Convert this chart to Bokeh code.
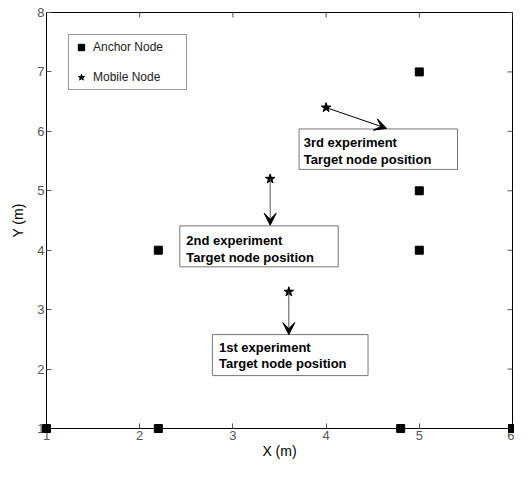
import math
from bokeh.plotting import figure
from bokeh.models import (Arrow, VeeHead, Range1d, FixedTicker,
                          Legend, LegendItem, ColumnDataSource)
from bokeh.core.properties import value
from bokeh.embed import file_html
from bokeh.resources import INLINE

# ---- data ----
anchor_x = [1, 2.2, 4.8, 6, 2.2, 5, 5, 5]
anchor_y = [1, 1, 1, 1, 4, 4, 5, 7]
mobile_x = [4.0, 3.4, 3.6]
mobile_y = [6.4, 5.2, 3.3]
arrow_end_x = [4.65, 3.4, 3.6]
arrow_end_y = [6.05, 4.42, 2.58]
arrow_colors = ["#000000", "#555555", "#555555"]

box_left = [3.71, 2.43, 2.78]
box_right = [5.41, 4.13, 4.45]
box_top = [6.04, 4.41, 2.58]
box_bottom = [5.36, 3.72, 1.89]

box_text_x = [3.76, 2.50, 2.85]
box_line1_y = [5.81, 4.16, 2.37]
box_line2_y = [5.53, 3.88, 2.09]
box_line1 = ["3rd experiment", "2nd experiment", "1st experiment"]
box_line2 = ["Target node position"] * 3

x_ticks = [1, 2, 3, 4, 5, 6]
y_ticks = [1, 2, 3, 4, 5, 6, 7, 8]
x_min, x_max = 1, 6
y_min, y_max = 1, 8

FONT = "Liberation Sans"

p = figure(width=514, height=461, x_range=Range1d(x_min, x_max),
           y_range=Range1d(y_min, y_max),
           output_backend="svg", toolbar_location=None,
           min_border_left=46, min_border_right=2, min_border_top=12,
           min_border_bottom=33)
p.xgrid.visible = False
p.ygrid.visible = False
p.outline_line_color = "black"
p.outline_line_width = 1
p.background_fill_color = "white"
p.border_fill_color = "white"

for ax, ticks in ((p.xaxis[0], x_ticks), (p.yaxis[0], y_ticks)):
    ax.ticker = FixedTicker(ticks=ticks)
    ax.minor_tick_line_color = None
    ax.major_tick_in = 5
    ax.major_tick_out = 0
    ax.major_tick_line_color = "#555555"
    ax.axis_line_color = "black"
    ax.major_label_text_font = FONT
    ax.major_label_text_font_size = "13px"
    ax.major_label_text_color = "#555555"
    ax.major_label_standoff = 2
    ax.axis_label_text_font = FONT
    ax.axis_label_text_font_size = "14px"
    ax.axis_label_text_font_style = "normal"
    ax.axis_label_text_color = "black"
    ax.axis_label_standoff = 0

p.xaxis[0].axis_label = "X (m)"
p.yaxis[0].axis_label = "Y (m)"
p.yaxis[0].axis_label_standoff = 8

# mirrored inward ticks on top and right edges (half clipped by the frame)
p.scatter(x=x_ticks, y=[y_max] * len(x_ticks), marker="dash", size=10,
          angle=math.pi / 2, line_color="#555555", line_width=1)
p.scatter(x=[x_max] * len(y_ticks), y=y_ticks, marker="dash", size=10,
          line_color="#555555", line_width=1)

# text boxes
p.quad(left=box_left, right=box_right, top=box_top, bottom=box_bottom,
       fill_color="white", line_color="#777777", line_width=1)
p.text(x=box_text_x, y=box_line1_y, text=box_line1, text_font=value(FONT),
       text_font_style="bold", text_font_size="13px", text_baseline="middle",
       text_color="black")
p.text(x=box_text_x, y=box_line2_y, text=box_line2, text_font=value(FONT),
       text_font_style="bold", text_font_size="13px", text_baseline="middle",
       text_color="black")

# arrows
arrow_src = ColumnDataSource(dict(x0=mobile_x, y0=mobile_y, x1=arrow_end_x,
                                  y1=arrow_end_y, c=arrow_colors))
p.add_layout(Arrow(end=VeeHead(size=12, fill_color="black", line_color="black",
                               fill_alpha=1),
                   x_start="x0", y_start="y0", x_end="x1", y_end="y1",
                   line_color="c", line_width=1, source=arrow_src))

# markers
r_anchor = p.scatter(anchor_x, anchor_y, marker="square", size=8,
                     fill_color="black", line_color="black", level="overlay")
r_mobile = p.scatter(mobile_x, mobile_y, marker="star", size=10,
                     fill_color="black", line_color="black")

legend = Legend(items=[LegendItem(label="Anchor Node", renderers=[r_anchor]),
                       LegendItem(label="Mobile Node", renderers=[r_mobile])],
                location="top_left", margin=22, padding=4, spacing=14,
                glyph_width=16, glyph_height=16, label_height=16,
                label_width=89, label_standoff=4,
                label_text_font=FONT, label_text_font_size="12px",
                label_text_color="#222222",
                border_line_color="#333333", border_line_width=1,
                background_fill_color="white", background_fill_alpha=1)
p.add_layout(legend, "center")

open("out.html", "w").write(file_html(p, INLINE))
